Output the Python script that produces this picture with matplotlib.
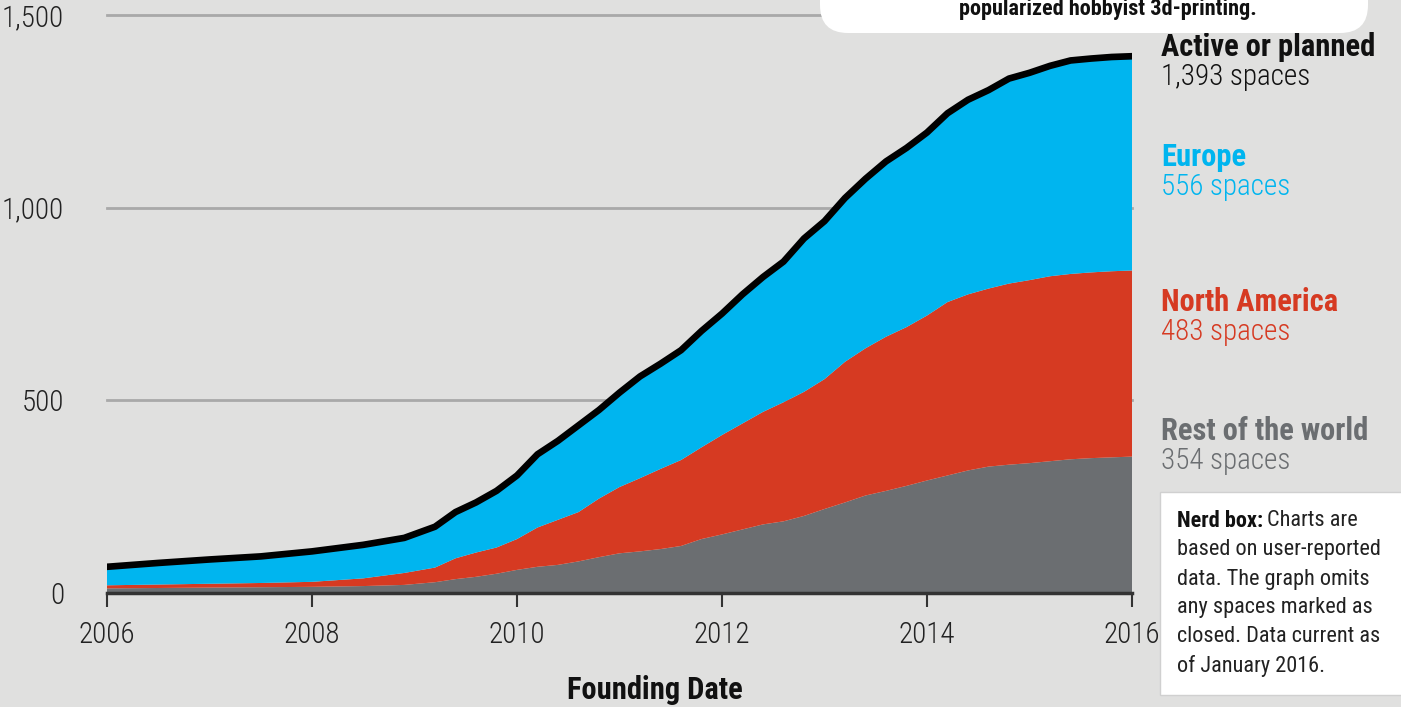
import matplotlib
matplotlib.use('Agg')
import matplotlib.pyplot as plt
from matplotlib.patches import FancyBboxPatch, Rectangle

# Founding date (decimal years) and cumulative number of spaces per region
years = [2006.0, 2006.5, 2007.0, 2007.5, 2008.0, 2008.5, 2008.9, 2009.2, 2009.4, 2009.6,
         2009.8, 2010.0, 2010.2, 2010.4, 2010.6, 2010.8, 2011.0, 2011.2, 2011.4, 2011.6,
         2011.8, 2012.0, 2012.2, 2012.4, 2012.6, 2012.8, 2013.0, 2013.2, 2013.4, 2013.6,
         2013.8, 2014.0, 2014.2, 2014.4, 2014.6, 2014.8, 2015.0, 2015.2, 2015.4, 2015.6,
         2015.8, 2016.0]
rest_of_world = [12, 13, 14, 15, 16, 18, 21, 28, 36, 42,
                 50, 60, 68, 73, 82, 93, 103, 108, 114, 122,
                 140, 152, 165, 178, 186, 200, 218, 235, 253, 265,
                 278, 292, 305, 318, 328, 333, 337, 342, 347, 350,
                 352, 354]
north_america = [8, 9, 10, 11, 13, 20, 31, 38, 54, 63,
                 68, 80, 102, 117, 128, 152, 172, 190, 208, 223,
                 238, 258, 275, 292, 309, 322, 337, 365, 382, 400,
                 412, 428, 450, 457, 462, 470, 475, 480, 481, 482,
                 483, 483]
europe = [48, 56, 63, 69, 79, 87, 91, 106, 120, 130,
          147, 165, 190, 205, 225, 230, 245, 264, 273, 285,
          302, 315, 335, 350, 365, 398, 410, 425, 440, 455,
          465, 475, 490, 505, 515, 532, 538, 546, 554, 555,
          556, 556]

x_ticks = [2006, 2008, 2010, 2012, 2014, 2016]
y_ticks = [0, 500, 1000, 1500]
y_tick_labels = ['0', '500', '1,000', '1,500']

labels = ['Active or planned', 'Europe', 'North America', 'Rest of the world']
label_counts = ['1,393 spaces', '556 spaces', '483 spaces', '354 spaces']

BG = '#e0e0df'
BLUE = '#00b5ef'
RED = '#d63a22'
GRAY = '#6b6e71'

plt.rcParams['font.family'] = ['Roboto Condensed', 'DejaVu Sans']

W, H = 1401, 707
fig = plt.figure(figsize=(W / 100, H / 100), dpi=100, facecolor=BG)
ax = fig.add_axes([107 / W, (H - 593) / H, 1025 / W, 578 / H])
ax.set_facecolor(BG)

total = [r + n + e for r, n, e in zip(rest_of_world, north_america, europe)]

for yv in [500, 1000, 1500]:
    ax.axhline(yv, color='#a9a9a9', lw=2, zorder=0, clip_on=False)

ax.stackplot(years, rest_of_world, north_america, europe,
             colors=[GRAY, RED, BLUE], lw=0, zorder=2)
ax.plot(years, total, color='black', lw=4.8, solid_capstyle='round', zorder=3)

ax.set_xlim(2006, 2016)
ax.set_ylim(0, 1500)
ax.set_xticks(x_ticks)
ax.set_xticklabels([str(t) for t in x_ticks], fontweight='light')
ax.set_yticks(y_ticks)
ax.set_yticklabels(y_tick_labels, fontweight='light')
ax.tick_params(axis='x', direction='out', length=10, width=1.5, color='#333333',
               labelsize=21, pad=10, labelcolor='#222222')
ax.tick_params(axis='y', length=0, labelsize=21, pad=31, labelcolor='#222222')

for s in ['top', 'right', 'left']:
    ax.spines[s].set_visible(False)
ax.spines['bottom'].set_color('#333333')
ax.spines['bottom'].set_linewidth(2.5)
ax.spines['bottom'].set_zorder(4)

tr = fig.dpi_scale_trans


def px(x, y):
    return x / 100, (H - y) / 100


fig.text(*px(655, 690), 'Founding Date', transform=tr, ha='center', va='center',
         fontsize=22, fontweight='bold', color='#111111')

# right-hand labels
label_colors = ['#111111', BLUE, RED, GRAY]
label_y = [47, 157, 302, 431]
for name, cnt, col, yy in zip(labels, label_counts, label_colors, label_y):
    fig.text(*px(1161, yy), name, transform=tr, ha='left', va='center',
             fontsize=22, fontweight='bold', color=col)
    fig.text(*px(1161, yy + 30), cnt, transform=tr, ha='left', va='center',
             fontsize=21, fontweight='light', color=col)

# nerd box
fig.patches.append(Rectangle(px(1160, 695), 2.5, 2.03, transform=tr,
                             facecolor='white', edgecolor='#d0d0d0', lw=1, zorder=5))
nerd_lines = ['based on user-reported', 'data. The graph omits',
              'any spaces marked as', 'closed. Data current as', 'of January 2016.']
nb = fig.text(*px(1177, 521), 'Nerd box:', transform=tr, ha='left', va='center',
              fontsize=16, fontweight='bold', color='#111111', zorder=6)
fig.canvas.draw()
bb = nb.get_window_extent()
fig.text(bb.x1 / 100 + 0.04, (H - 521) / 100, 'Charts are', transform=tr, ha='left',
         va='center', fontsize=16, color='#222222', zorder=6)
for i, line in enumerate(nerd_lines):
    fig.text(*px(1177, 550 + i * 29), line, transform=tr, ha='left', va='center',
             fontsize=16, color='#222222', zorder=6)

# top callout box (cut off at the top)
fig.patches.append(FancyBboxPatch(px(820, 33), 5.48, 0.8, transform=tr,
                                  boxstyle='round,pad=0,rounding_size=0.28',
                                  facecolor='white', edgecolor='none', zorder=5))
fig.text(*px(1108, 9), 'popularized hobbyist 3d-printing.', transform=tr,
         ha='center', va='center', fontsize=16, fontweight='bold',
         color='#111111', zorder=6)

fig.savefig('out.png', dpi=100, facecolor=BG)
